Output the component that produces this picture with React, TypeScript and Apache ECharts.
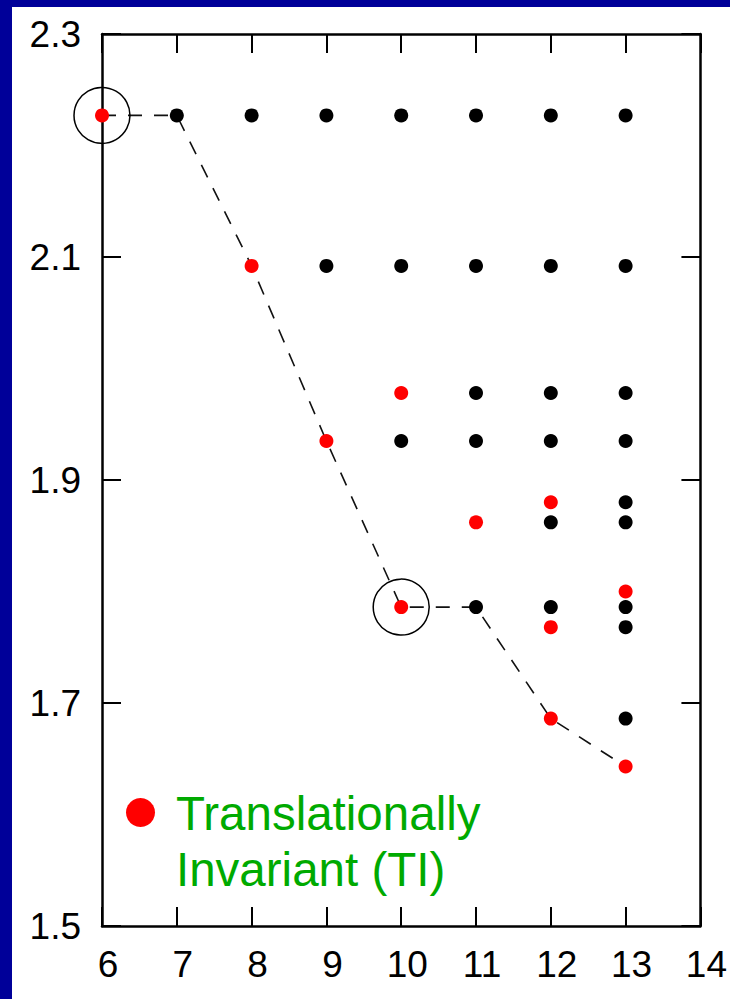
import React, { useEffect, useRef } from "react";
import * as echarts from "echarts";

// x: size index, y: energy-like value
const xTicks = [6, 7, 8, 9, 10, 11, 12, 13, 14];
const yTickLabels = ["1.5", "1.7", "1.9", "2.1", "2.3"];

// Translationally invariant states (red)
const tiPoints: [number, number][] = [
  [6, 2.227],
  [8, 2.092],
  [10, 1.978],
  [9, 1.935],
  [12, 1.88],
  [11, 1.862],
  [13, 1.8],
  [10, 1.786],
  [12, 1.768],
  [12, 1.686],
  [13, 1.643],
];

// Other states (black)
const otherPoints: [number, number][] = [
  [7, 2.227], [8, 2.227], [9, 2.227], [10, 2.227], [11, 2.227], [12, 2.227], [13, 2.227],
  [9, 2.092], [10, 2.092], [11, 2.092], [12, 2.092], [13, 2.092],
  [11, 1.978], [12, 1.978], [13, 1.978],
  [10, 1.935], [11, 1.935], [12, 1.935], [13, 1.935],
  [13, 1.88],
  [12, 1.862], [13, 1.862],
  [11, 1.786], [12, 1.786], [13, 1.786],
  [13, 1.768],
  [13, 1.686],
];

// Lowest-value path (dashed)
const minimumPath: [number, number][] = [
  [6, 2.227],
  [7, 2.227],
  [8, 2.092],
  [9, 1.935],
  [10, 1.786],
  [11, 1.786],
  [12, 1.686],
  [13, 1.643],
];

// Circled points
const circledPoints: [number, number][] = [
  [6, 2.227],
  [10, 1.786],
];

const legendLines = ["Translationally", "Invariant (TI)"];

const FONT = '"Liberation Sans", Arial, Helvetica, sans-serif';

export default function App() {
  const ref = useRef<HTMLDivElement>(null);

  useEffect(() => {
    if (!ref.current) return;
    const chart = echarts.init(ref.current, null, { renderer: "svg" });

    const axisLine = { show: true, lineStyle: { color: "#000", width: 2.5 } };
    const axisTick = { show: true, inside: true, length: 19, lineStyle: { color: "#000", width: 2 } };

    chart.setOption({
      animation: false,
      backgroundColor: "transparent",
      grid: { left: 102, right: 25, top: 34, bottom: 73, containLabel: false },
      xAxis: [
        {
          type: "value",
          position: "bottom",
          min: xTicks[0],
          max: xTicks[xTicks.length - 1],
          interval: 1,
          axisLine,
          axisTick,
          splitLine: { show: false },
          axisLabel: {
            show: true,
            color: "#000",
            fontSize: 37,
            fontFamily: FONT,
            margin: 20,
            padding: [0, 0, 0, 12],
          },
        },
        {
          type: "value",
          position: "top",
          min: xTicks[0],
          max: xTicks[xTicks.length - 1],
          interval: 1,
          axisLine,
          axisTick,
          splitLine: { show: false },
          axisLabel: { show: false },
        },
      ],
      yAxis: [
        {
          type: "value",
          position: "left",
          min: Number(yTickLabels[0]),
          max: Number(yTickLabels[yTickLabels.length - 1]),
          interval: 0.2,
          axisLine,
          axisTick,
          splitLine: { show: false },
          axisLabel: {
            show: true,
            color: "#000",
            fontSize: 37,
            fontFamily: FONT,
            margin: 21,
            formatter: (v: number) => v.toFixed(1),
          },
        },
        {
          type: "value",
          position: "right",
          min: Number(yTickLabels[0]),
          max: Number(yTickLabels[yTickLabels.length - 1]),
          interval: 0.2,
          axisLine,
          axisTick,
          splitLine: { show: false },
          axisLabel: { show: false },
        },
      ],
      series: [
        {
          type: "line",
          data: minimumPath,
          showSymbol: false,
          symbol: "none",
          clip: false,
          lineStyle: { color: "#111", width: 1.6, type: [14, 12] },
          z: 1,
        },
        {
          type: "scatter",
          data: circledPoints,
          symbolSize: 56,
          clip: false,
          itemStyle: { color: "rgba(0,0,0,0)", borderColor: "#000", borderWidth: 1.5, opacity: 1 },
          z: 2,
        },
        {
          type: "scatter",
          data: otherPoints,
          symbolSize: 14,
          clip: false,
          itemStyle: { color: "#000", opacity: 1 },
          z: 3,
        },
        {
          type: "scatter",
          data: tiPoints,
          symbolSize: 14,
          clip: false,
          itemStyle: { color: "#ff0000", opacity: 1 },
          z: 4,
        },
      ],
      graphic: [
        {
          type: "circle",
          shape: { cx: 140.5, cy: 812.5, r: 14.5 },
          style: { fill: "#ff0000" },
          z: 10,
        },
        {
          type: "text",
          x: 176,
          y: 813,
          style: {
            text: legendLines[0],
            fill: "#00aa00",
            font: `47.5px ${FONT}`,
            textVerticalAlign: "middle",
            verticalAlign: "middle",
          },
          z: 10,
        },
        {
          type: "text",
          x: 176,
          y: 869,
          style: {
            text: legendLines[1],
            fill: "#00aa00",
            font: `47.5px ${FONT}`,
            textVerticalAlign: "middle",
            verticalAlign: "middle",
          },
          z: 10,
        },
      ],
    });

    return () => chart.dispose();
  }, []);

  return (
    <div style={{ position: "fixed", left: 0, top: 0, width: 730, height: 999, background: "#000099" }}>
      <div style={{ position: "absolute", left: 12, top: 7, width: 718, height: 992, background: "#fff" }} />
      <div ref={ref} style={{ position: "absolute", left: 0, top: 0, width: 730, height: 999 }} />
    </div>
  );
}
